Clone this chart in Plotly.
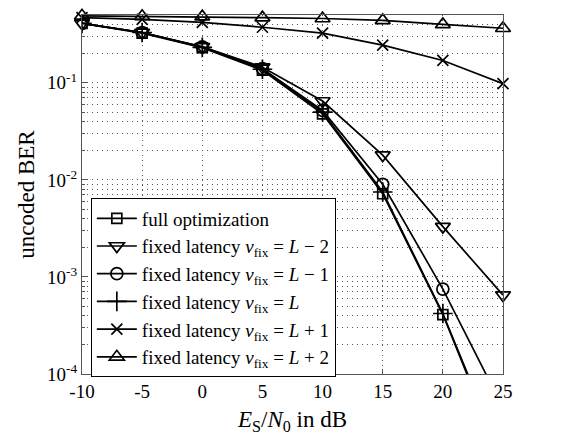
import plotly.graph_objects as go

snr_db = [-10, -5, 0, 5, 10, 15, 20, 25]

ber_full = [0.41, 0.325, 0.23, 0.135, 0.048, 0.0072, 4.1e-4, 1.2e-5]
ber_lm2 = [0.41, 0.33, 0.235, 0.145, 0.065, 0.018, 0.0033, 6.5e-4]
ber_lm1 = [0.41, 0.33, 0.235, 0.14, 0.052, 0.009, 7.5e-4, 4.5e-5]
ber_l = [0.41, 0.33, 0.232, 0.138, 0.05, 0.0075, 4.2e-4, 1.3e-5]
ber_lp1 = [0.47, 0.45, 0.42, 0.374, 0.325, 0.245, 0.17, 0.098]
ber_lp2 = [0.49, 0.485, 0.48, 0.47, 0.46, 0.44, 0.40, 0.365]

names = [
    "full optimization",
    "fixed latency <i>ν</i><sub>fix</sub> = <i>L</i> − 2",
    "fixed latency <i>ν</i><sub>fix</sub> = <i>L</i> − 1",
    "fixed latency <i>ν</i><sub>fix</sub> = <i>L</i>",
    "fixed latency <i>ν</i><sub>fix</sub> = <i>L</i> + 1",
    "fixed latency <i>ν</i><sub>fix</sub> = <i>L</i> + 2",
]
series = [ber_full, ber_lm2, ber_lm1, ber_l, ber_lp1, ber_lp2]
symbols = ["square-open", "triangle-down-open", "circle-open",
           "cross-thin-open", "x-thin-open", "triangle-up-open"]
sizes = [10, 13, 12, 14, 11, 13]

y_tickvals = [1e-4, 1e-3, 1e-2, 1e-1]
y_ticktext = ["10<sup>-4</sup>", "10<sup>-3</sup>", "10<sup>-2</sup>", "10<sup>-1</sup>"]
y_minorvals = [m * 10.0 ** e for e in range(-4, 0) for m in range(2, 10) if m * 10.0 ** e <= 0.5]
x_tickvals = [-10, -5, 0, 5, 10, 15, 20, 25]

fig = go.Figure()
for name, ys, sym, sz in zip(names, series, symbols, sizes):
    in_range = min(ys) >= 1e-4
    fig.add_trace(go.Scatter(
        x=snr_db, y=ys, name=name, mode="lines+markers",
        line=dict(color="black", width=1.7),
        marker=dict(symbol=sym, size=sz, color="black",
                    line=dict(color="black", width=1.7)),
        cliponaxis=not in_range,
    ))

grid = dict(gridcolor="#555", griddash="1px,4px", gridwidth=1)

fig.update_layout(
    width=587, height=440,
    margin=dict(l=82, r=84, t=15, b=63),
    paper_bgcolor="white", plot_bgcolor="white",
    font=dict(family="Liberation Serif", size=19, color="black"),
    showlegend=True,
    legend=dict(
        x=0.021, y=0.489, xanchor="left", yanchor="top",
        bgcolor="white", bordercolor="black", borderwidth=1,
        font=dict(family="Liberation Serif", size=19, color="black"),
        tracegroupgap=0, itemwidth=40,
    ),
)
fig.update_xaxes(
    range=[-10, 25], tickvals=x_tickvals, ticktext=[str(v) for v in x_tickvals],
    showline=True, mirror=True, linecolor="#555", linewidth=1,
    ticks="inside", ticklen=5, tickcolor="#555",
    showgrid=True, **grid,
    zeroline=False,
    tickfont=dict(size=19),
    title=dict(text="<i>E</i><sub>S</sub>/<i>N</i><sub>0</sub> in dB", standoff=10),
)
fig.update_yaxes(
    type="log", range=[-4, -0.301],
    tickvals=y_tickvals, ticktext=y_ticktext,
    showline=True, mirror=True, linecolor="#555", linewidth=1,
    ticks="inside", ticklen=5, tickcolor="#555",
    showgrid=True, **grid,
    minor=dict(tickmode="array", tickvals=y_minorvals, showgrid=True, **grid,
               ticks="inside", ticklen=3, tickcolor="#555"),
    zeroline=False,
    tickfont=dict(size=19),
    title=dict(text="uncoded BER", standoff=6),
)

fig.write_html("out.html")
